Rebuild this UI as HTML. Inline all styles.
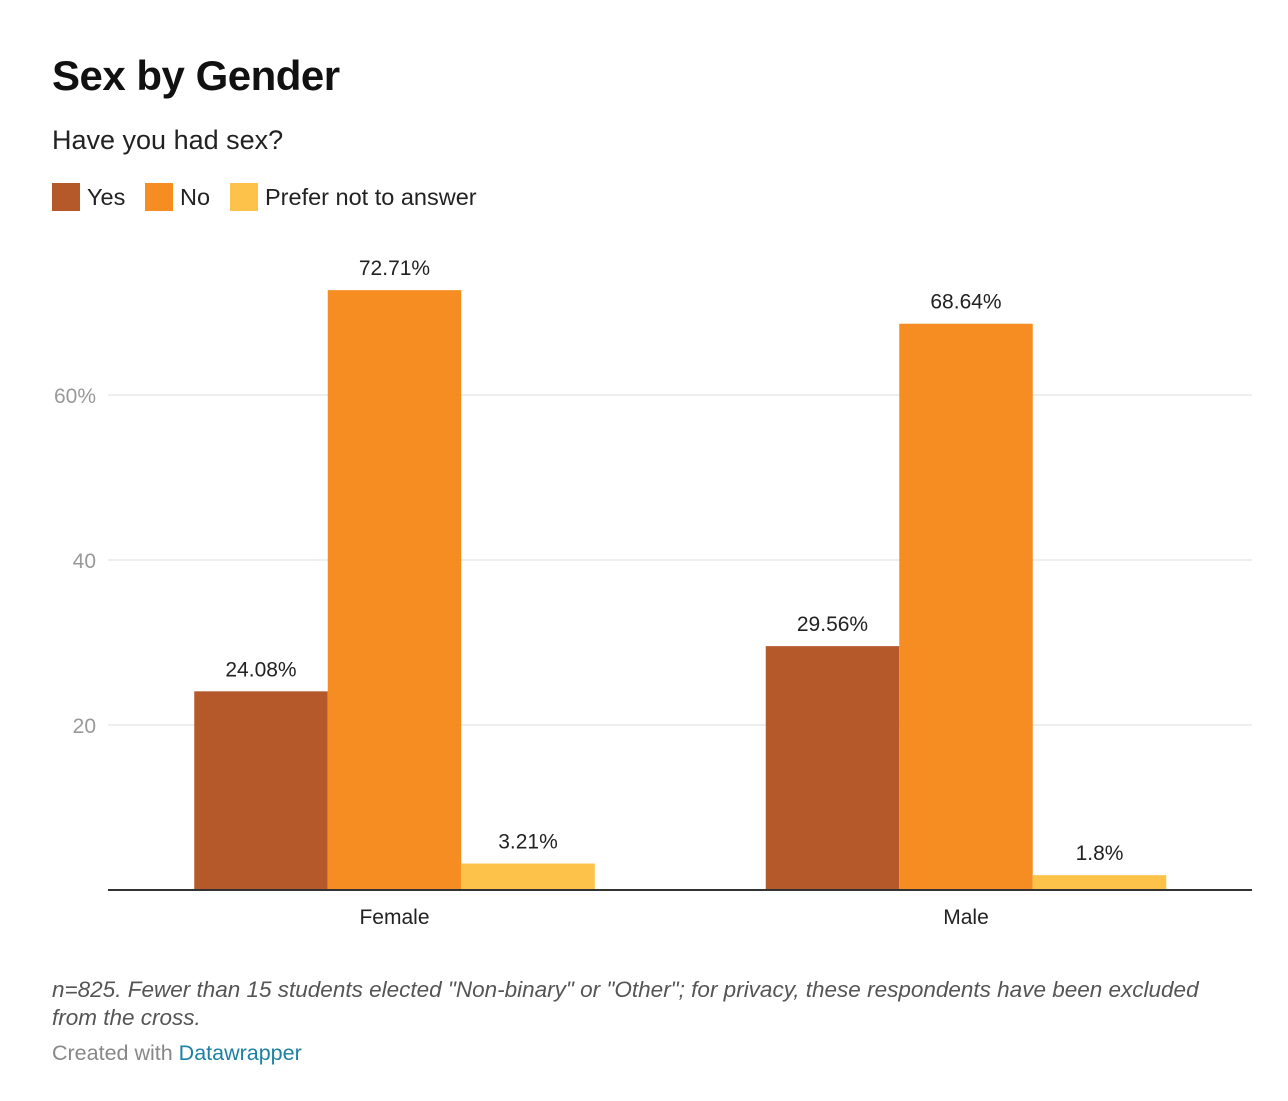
<!DOCTYPE html>
<html><head><meta charset="utf-8">
<style>
body{margin:0;background:#fff;width:1288px;height:1101px;overflow:hidden;font-family:"Liberation Sans",sans-serif;}
.t{position:absolute;left:52px;top:52px;font-size:42px;font-weight:bold;color:#111;letter-spacing:-0.5px}
.s{position:absolute;left:52px;top:125px;font-size:27px;color:#222}
.lg{position:absolute;top:182px;height:30px;display:flex;align-items:center;font-size:23.5px;color:#222}
.sw{width:28px;height:28px;margin-right:7px}
.n{position:absolute;left:52px;top:976px;font-size:22.5px;font-style:italic;color:#555;width:1190px;line-height:28px}
.c{position:absolute;left:52px;top:1041px;font-size:21.5px;color:#888}
.c span{color:#1d81a2}
</style></head><body>
<div class="t">Sex by Gender</div>
<div class="s">Have you had sex?</div>
<div class="lg" style="left:52px"><div class="sw" style="background:#b5582a"></div>Yes</div>
<div class="lg" style="left:145px"><div class="sw" style="background:#f58d22"></div>No</div>
<div class="lg" style="left:230px"><div class="sw" style="background:#fdc24a"></div>Prefer not to answer</div>
<svg id="chart" width="1288" height="1101" style="position:absolute;left:0;top:0"></svg>
<div class="n">n=825. Fewer than 15 students elected "Non-binary" or "Other"; for privacy, these respondents have been excluded from the cross.</div>
<div class="c">Created with <span>Datawrapper</span></div>
<script>
const categories=["Female","Male"];
const seriesNames=["Yes","No","Prefer not to answer"];
const yesVals=[24.08,29.56];
const noVals=[72.71,68.64];
const preferVals=[3.21,1.8];
const valueLabels=[["24.08%","72.71%","3.21%"],["29.56%","68.64%","1.8%"]];
const yTicks=[20,40,60];
const tickLabels=["20","40","60%"];
const colors=["#b5582a","#f58d22","#fdc24a"];
const NS="http://www.w3.org/2000/svg";
const svg=document.getElementById('chart');
const base=890,pxPer=8.25,left=108,right=1252;
const y=v=>base-v*pxPer;
const centers=[394.5,966],bw=133.5;
function mk(t,a){const e=document.createElementNS(NS,t);for(const k in a)e.setAttribute(k,a[k]);svg.appendChild(e);return e;}
yTicks.forEach((v,i)=>{
 const g=mk('line',{x1:left,x2:right,y1:y(v),y2:y(v),stroke:'#ddd','stroke-width':1});
 
 
 const t=mk('text',{x:96,y:y(v)+8,'text-anchor':'end','font-size':21,fill:'#999','font-family':'Liberation Sans, sans-serif'});
 t.textContent=tickLabels[i];
 
 
});
const series=[yesVals,noVals,preferVals];
categories.forEach((c,ci)=>{
 series.forEach((s,si)=>{
  const x=centers[ci]+(si-1.5)*bw;
  const r=mk('rect',{x:x,y:y(s[ci]),width:bw,height:s[ci]*pxPer,fill:colors[si]});
  
  
  const t=mk('text',{x:x+bw/2,y:y(s[ci])-15,'text-anchor':'middle','font-size':21,fill:'#222','font-family':'Liberation Sans, sans-serif'});
  t.textContent=valueLabels[ci][si];
  
  
 });
 const t=mk('text',{x:centers[ci],y:924,'text-anchor':'middle','font-size':21,fill:'#222','font-family':'Liberation Sans, sans-serif'});
 t.textContent=c;
 
 
});
const ax=mk('line',{x1:left,x2:right,y1:base,y2:base,stroke:'#333','stroke-width':2});


</script>
</body></html>
